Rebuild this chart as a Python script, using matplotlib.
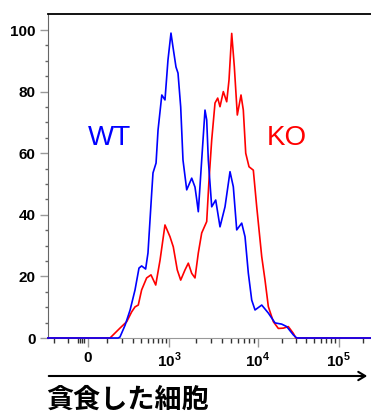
import numpy as np
import matplotlib
matplotlib.use('Agg')
import matplotlib.pyplot as plt
from matplotlib.ticker import FixedLocator, FixedFormatter

plt.rcParams['font.family'] = ['Liberation Sans', 'DejaVu Sans']
plt.rcParams['mathtext.fontset'] = 'custom'
plt.rcParams['mathtext.rm'] = 'Liberation Sans:bold'
plt.rcParams['mathtext.bf'] = 'Liberation Sans:bold'

# fluorescence intensity vs % of max
wt_x = [-250, 168, 182, 224, 270, 322, 370, 405, 464, 502, 568, 593, 656, 700,
        792, 878, 968, 1053, 1109, 1199, 1264, 1355, 1438, 1584, 1803, 1964,
        2053, 2140, 2337, 2546, 2661, 2774, 3030, 3361, 3758, 4279, 4873, 5309,
        5798, 6600, 7193, 7834, 8558, 9324, 11210, 13530, 16370, 19820, 22850,
        27590, 30390, 252000]
wt_y = [0, 0, 0.3, 4.2, 9.1, 15.6, 22.7, 23.4, 22.4, 27.6, 47.1, 53.6, 56.8, 67.5,
        78.9, 77.3, 90.3, 99.0, 94.5, 88.0, 86.0, 75.0, 57.8, 48.1, 51.9, 49.0,
        45.0, 41.0, 57.8, 74.0, 70.8, 57.8, 42.6, 44.8, 36.1, 42.6, 54.0, 49.1,
        35.1, 37.3, 32.9, 21.1, 12.3, 9.1, 10.7, 8.1, 4.9, 4.5, 3.7,
        1.0, 0, 0]

ko_x = [-250, 115, 182, 238, 286, 322, 361, 405, 480, 555, 649, 748, 878, 1026,
        1118, 1240, 1355, 1515, 1651, 1803, 1964, 2140, 2337, 2661, 2825, 3030,
        3301, 3540, 3758, 4095, 4472, 4748, 5092, 5449, 5888, 6481, 6881, 7325,
        7978, 8921, 9743, 11210, 12310, 13530, 15600, 17990, 20740, 23920,
        27590, 29600, 252000]
ko_y = [0, 0, 3.2, 5.3, 8.5, 10.1, 10.7, 15.6, 19.5, 20.5, 17.2, 25.3, 36.7, 32.9,
        29.6, 22.1, 18.8, 22.1, 24.3, 21.0, 19.5, 27.6, 34.1, 37.8, 51.3, 64.3,
        76.3, 77.9, 75.1, 80.0, 76.7, 83.8, 98.9, 88.1, 72.4, 78.9, 74.0, 60.0,
        55.6, 54.5, 42.6, 26.4, 18.8, 10.2, 5.3, 3.1, 3.2, 3.7,
        1.5, 0, 0]

x_major = [0, 1e3, 1e4, 1e5]
x_major_labels = ['0', '$10^3$', '$10^4$', '$10^5$']
x_minor = [-200, -100, -50, -40, -30, -20, 100, 200, 300, 400, 500, 600, 700, 800, 900] + \
          [k * 1e3 for k in range(2, 10)] + [k * 1e4 for k in range(2, 10)] + [2e5]

# logicle-like display scale
C, A, B1, B2 = 150.0, 31.2, 88.7, 80.8
P1000 = A * np.arcsinh(1000 / C)


def fwd(x):
    x = np.asarray(x, dtype=float)
    lg = np.log10(np.maximum(x, 1e-9))
    lo = A * np.arcsinh(x / C)
    mid = P1000 + B1 * (lg - 3)
    hi = P1000 + B1 + B2 * (lg - 4)
    return np.where(x <= 1000, lo, np.where(x <= 1e4, mid, hi))


def inv(p):
    p = np.asarray(p, dtype=float)
    lo = C * np.sinh(np.clip(p, -1e3, P1000) / A)
    mid = 10 ** (3 + (p - P1000) / B1)
    hi = 10 ** (4 + (p - P1000 - B1) / B2)
    return np.where(p <= P1000, lo, np.where(p <= P1000 + B1, mid, hi))


W, H = 371, 415
fig = plt.figure(figsize=(W / 100, H / 100), dpi=100)
ax = fig.add_axes([48 / W, 77 / H, (W - 48) / W, (401 - 77) / H])

ax.plot(ko_x, ko_y, color='#ff0000', lw=1.2, clip_on=False, zorder=3)
ax.plot(wt_x, wt_y, color='#0000ff', lw=1.2, clip_on=False, zorder=4)

ax.set_xscale('function', functions=(fwd, inv))
ax.set_xlim(-249, 252000)
ax.set_ylim(0, 105.2)

ax.xaxis.set_major_locator(FixedLocator(x_major))
ax.xaxis.set_major_formatter(FixedFormatter(x_major_labels))
ax.xaxis.set_minor_locator(FixedLocator(x_minor))
ax.set_yticks(range(0, 101, 20))
ax.set_yticks([v for v in range(5, 101, 5) if v % 20], minor=True)

ax.spines['right'].set_visible(False)
ax.spines['top'].set_linewidth(1.3)
ax.spines['top'].set_color('black')
ax.spines['left'].set_color('#666666')
ax.spines['bottom'].set_color('#999999')

ax.tick_params(axis='x', which='major', length=6.5, width=1, color='#999999',
               labelsize=11, pad=3)
ax.tick_params(axis='x', which='minor', length=3.6, width=1, color='#333333')
ax.tick_params(axis='y', which='major', length=5.8, width=1, color='#999999',
               labelsize=11, pad=3)
ax.tick_params(axis='y', which='minor', length=2.2, width=1, color='#666666')
for lab in ax.get_yticklabels() + ax.get_xticklabels():
    lab.set_fontweight('bold')

fig.text(110 / W, 1 - 138 / H, 'WT', color='#0000ff', fontsize=20,
         ha='center', va='center')
fig.text(287 / W, 1 - 138 / H, 'KO', color='#ff0000', fontsize=20,
         ha='center', va='center')

fig.add_artist(matplotlib.patches.FancyArrowPatch(
    (46 / W, 1 - 376 / H), (370 / W, 1 - 376 / H), transform=fig.transFigure,
    arrowstyle='->,head_length=5,head_width=3', color='black', lw=1.5,
    mutation_scale=1))
fig.text(46 / W, 1 - 400 / H, '貪食した細胞', fontsize=19.5, fontweight='bold',
         family=['Noto Sans CJK JP', 'DejaVu Sans'], ha='left', va='center')

fig.savefig('out.png', dpi=100)
